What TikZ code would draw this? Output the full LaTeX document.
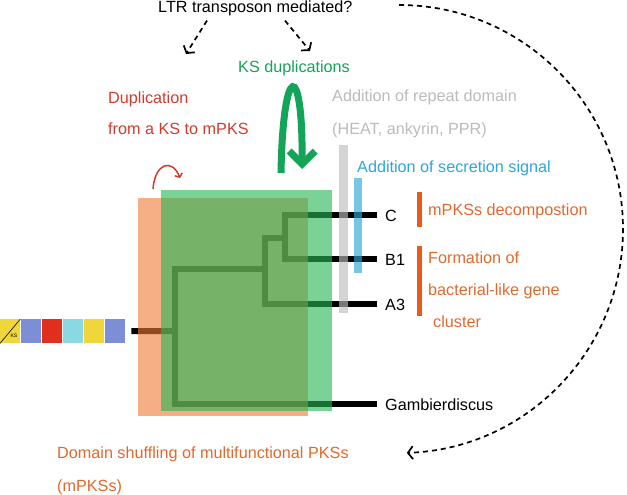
\documentclass[tikz,border=0pt]{standalone}
\usepackage{fontspec}
\setmainfont{Liberation Sans}
\usetikzlibrary{arrows.meta}
\definecolor{ksgreen}{HTML}{14A459}
\definecolor{dupred}{HTML}{D13B2D}
\definecolor{evorange}{HTML}{E2692C}
\definecolor{barorange}{HTML}{E85A1E}
\definecolor{repgray}{HTML}{BBBBBB}
\definecolor{secblue}{HTML}{2EA7D8}
\definecolor{boxorange}{RGB}{240,120,50}
\definecolor{boxgreen}{RGB}{40,182,87}
\definecolor{domyellow}{HTML}{EFD63B}
\definecolor{domblue}{HTML}{7E8ED6}
\definecolor{domred}{HTML}{E0301D}
\definecolor{domcyan}{HTML}{8AD8E2}
\begin{document}
\begin{tikzpicture}[x=1pt,y=-1pt,
	every node/.style={font=\fontsize{16.2}{19}\selectfont,inner sep=0pt,anchor=base west},
	branch/.style={line width=6pt},
	hint/.style={line width=1.7pt,dash pattern=on 5pt off 4pt,-{Straight Barb[length=5pt,width=13pt]}}]
	\useasboundingbox (0,0) rectangle (627,495);
	% domains of the ancestral mPKS
	\foreach \c [count=\i] in {domyellow,domblue,domred,domcyan,domyellow,domblue}
		\node[fill=\c,minimum width=20pt,minimum height=24pt,anchor=north west] (d\i) at ({21*(\i-1)},319) {};
	\draw[line width=.6pt] (d1.south west) -- (d1.north east);
	\node[font=\fontsize{5}{6}\selectfont,anchor=center] (ks) at (14,336) {KS};
	% leaves
	\node (C) at (385,221) {C};
	\node (B1) at (385,265) {B1};
	\node (A3) at (385,310) {A3};
	\node (G) at (385,410) {Gambierdiscus};
	\coordinate (kCB) at (285,238);
	\coordinate (kA) at (265,269);
	\coordinate (kR) at (175,331);
	\draw[branch] ([xshift=-8pt]C.west) -| (kCB) |- ([xshift=-8pt]B1.west);
	\draw[branch] (kCB) -| (kA) |- ([xshift=-8pt]A3.west);
	\draw[branch] (kA) -| (kR) |- ([xshift=-8pt]G.west);
	\draw[branch] ([xshift=6pt]d6.east) -- (kR);
	% events
	\fill[boxorange,opacity=.6] (138,198) rectangle (308,416);
	\fill[boxgreen,opacity=.62] (161,190) rectangle (332,411);
	\fill[repgray,opacity=.64] (339,145) rectangle (348,313);
	\fill[secblue,opacity=.65] (354,178) rectangle (362,273);
	\fill[barorange] (417,192) rectangle (422,227);
	\fill[barorange] (417,246) rectangle (422,316);
	\node (ltr) at (158,13) {LTR transposon mediated?};
	\node[text=ksgreen] (ksdup) at (238,73) {KS duplications};
	\node[text=dupred] (dup1) at (108,103) {Duplication};
	\node[text=dupred] (dup2) at (108,135) {from a KS to mPKS};
	\node[text=repgray] (rep1) at (332,102) {Addition of repeat domain};
	\node[text=repgray] (rep2) at (332,135) {(HEAT, ankyrin, PPR)};
	\node[text=secblue] (sec) at (357,172) {Addition of secretion signal};
	\node[text=evorange] (dec) at (428,215) {mPKSs decompostion};
	\node[text=evorange] (form1) at (428,263) {Formation of};
	\node[text=evorange] (form2) at (428,295) {bacterial-like gene};
	\node[text=evorange] (form3) at (433,327) {cluster};
	\node[text=evorange] (shuf1) at (57,458) {Domain shuffling of multifunctional PKSs};
	\node[text=evorange] (shuf2) at (57,491) {(mPKSs)};
	% arrows
	\coordinate (h1) at (186,54);
	\coordinate (h2) at (310,51);
	\coordinate (a0) at (399,5);
	\draw[hint] ([xshift=49pt,yshift=-4pt]ltr.south west) -- (h1);
	\draw[hint] ([xshift=127pt,yshift=-4pt]ltr.south west) -- (h2);
	\draw[hint] (a0) arc[start angle=-90,end angle=88,radius=224];
	\coordinate (r0) at (153,189);
	\coordinate (r1) at (180,178);
	\draw[dupred,line width=1.5pt,-{Straight Barb[length=3pt,width=8pt]}] (r0) .. controls (155,163) and (172,158) .. (r1);
	\coordinate (g0) at (281,173);
	\coordinate (g1) at (302,169);
	\draw[ksgreen,line width=7pt,-{Straight Barb[length=13pt,width=26pt]}] (g0) .. controls (283,60) and (303,60) .. (g1);
\end{tikzpicture}
\end{document}
